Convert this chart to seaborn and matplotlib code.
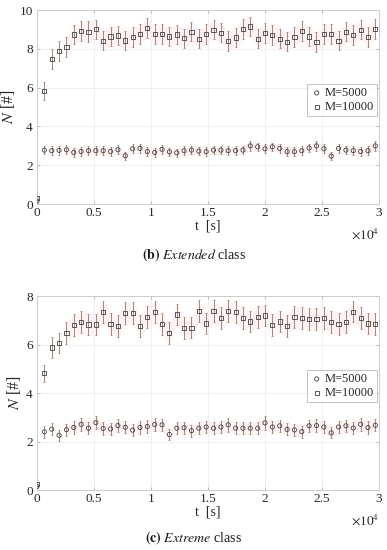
import numpy as np
import pandas as pd
import seaborn as sns
import matplotlib.pyplot as plt

# sampling times [s]
step = 645
times = [i * step for i in range(47)]

# (b) Extended class
ext_m5000 = [0.15, 2.78, 2.75, 2.77, 2.80, 2.66, 2.71, 2.75, 2.75, 2.75,
             2.71, 2.80, 2.49, 2.85, 2.87, 2.71, 2.66, 2.82, 2.69, 2.64,
             2.75, 2.78, 2.73, 2.70, 2.78, 2.78, 2.75, 2.75, 2.78, 3.00,
             2.95, 2.85, 2.95, 2.87, 2.70, 2.70, 2.75, 2.89, 3.00, 2.85,
             2.47, 2.87, 2.78, 2.75, 2.71, 2.75, 3.00]
ext_m5000_err = [0.05, 0.22, 0.22, 0.22, 0.22, 0.22, 0.22, 0.22, 0.22, 0.22,
                 0.22, 0.22, 0.20, 0.22, 0.24, 0.22, 0.22, 0.22, 0.22, 0.22,
                 0.22, 0.22, 0.22, 0.22, 0.22, 0.22, 0.22, 0.22, 0.22, 0.24,
                 0.22, 0.22, 0.22, 0.22, 0.22, 0.22, 0.22, 0.22, 0.24, 0.22,
                 0.20, 0.22, 0.22, 0.22, 0.22, 0.22, 0.24]
ext_m10000 = [0.30, 5.82, 7.48, 7.90, 8.10, 8.74, 8.93, 8.88, 9.01, 8.42,
              8.64, 8.69, 8.43, 8.61, 8.76, 9.08, 8.76, 8.76, 8.64, 8.74,
              8.54, 8.88, 8.52, 8.76, 8.99, 8.83, 8.40, 8.59, 9.03, 9.15,
              8.52, 8.81, 8.72, 8.52, 8.37, 8.62, 8.93, 8.64, 8.36, 8.76,
              8.76, 8.42, 8.89, 8.71, 8.99, 8.61, 9.03]
ext_m10000_err = [0.08, 0.45, 0.50, 0.50, 0.50, 0.50, 0.50, 0.55, 0.50, 0.50,
                  0.50, 0.50, 0.50, 0.50, 0.50, 0.50, 0.50, 0.50, 0.50, 0.50,
                  0.50, 0.50, 0.50, 0.50, 0.50, 0.50, 0.50, 0.50, 0.50, 0.50,
                  0.50, 0.50, 0.50, 0.50, 0.50, 0.50, 0.50, 0.50, 0.50, 0.50,
                  0.50, 0.50, 0.50, 0.50, 0.50, 0.50, 0.50]

# (c) Extreme class
xtr_m5000 = [0.15, 2.40, 2.51, 2.26, 2.49, 2.58, 2.71, 2.55, 2.78, 2.54,
             2.52, 2.66, 2.59, 2.47, 2.58, 2.62, 2.70, 2.69, 2.29, 2.55,
             2.57, 2.45, 2.55, 2.60, 2.55, 2.60, 2.69, 2.55, 2.55, 2.55,
             2.55, 2.77, 2.60, 2.65, 2.50, 2.48, 2.41, 2.65, 2.66, 2.60,
             2.36, 2.60, 2.65, 2.56, 2.71, 2.58, 2.67]
xtr_m5000_err = [0.05, 0.25, 0.25, 0.22, 0.25, 0.25, 0.28, 0.25, 0.28, 0.25,
                 0.25, 0.25, 0.25, 0.25, 0.25, 0.25, 0.28, 0.25, 0.22, 0.25,
                 0.25, 0.25, 0.25, 0.25, 0.25, 0.25, 0.28, 0.25, 0.25, 0.25,
                 0.25, 0.28, 0.25, 0.25, 0.25, 0.25, 0.25, 0.25, 0.25, 0.25,
                 0.22, 0.25, 0.25, 0.25, 0.28, 0.25, 0.25]
xtr_m10000 = [0.25, 4.81, 5.88, 6.07, 6.46, 6.79, 6.94, 6.83, 6.83, 7.35,
              6.85, 6.75, 7.30, 7.30, 6.75, 7.12, 7.35, 6.85, 6.47, 7.24,
              6.67, 6.70, 7.38, 6.87, 7.37, 7.10, 7.37, 7.35, 7.09, 6.95,
              7.15, 7.20, 6.80, 6.95, 6.76, 7.15, 7.10, 7.05, 7.05, 7.10,
              6.94, 6.85, 6.94, 7.36, 7.10, 6.87, 6.85]
xtr_m10000_err = [0.08, 0.35, 0.45, 0.40, 0.45, 0.45, 0.45, 0.45, 0.45, 0.45,
                  0.45, 0.45, 0.45, 0.45, 0.45, 0.45, 0.45, 0.45, 0.45, 0.45,
                  0.45, 0.45, 0.45, 0.45, 0.45, 0.45, 0.45, 0.45, 0.45, 0.45,
                  0.45, 0.45, 0.45, 0.45, 0.45, 0.45, 0.45, 0.45, 0.45, 0.45,
                  0.45, 0.45, 0.45, 0.45, 0.45, 0.45, 0.45]

xtick_vals = [0, 5000, 10000, 15000, 20000, 25000, 30000]
xtick_labels = ["0", "0.5", "1", "1.5", "2", "2.5", "3"]

sns.set_style("white")
plt.rcParams["font.family"] = ["Liberation Serif", "DejaVu Serif"]
plt.rcParams["mathtext.fontset"] = "stix"

fig = plt.figure(figsize=(3.87, 5.5), dpi=100)
ax_b = fig.add_axes([0.0956, 0.629, 0.884, 0.3527])
ax_c = fig.add_axes([0.0956, 0.109, 0.884, 0.3527])

err_color = "#9a7461"
edge_color = "#404040"
band_color = "#fdeef2"


def draw_panel(ax, s5, e5, s10, e10, ymax):
    df = pd.DataFrame({"t": times, "M=5000": s5, "M=10000": s10})
    for vals, errs in [(s5, e5), (s10, e10)]:
        lo = np.array(vals) - np.array(errs)
        hi = np.array(vals) + np.array(errs)
        ax.fill_between(times[4:], lo[4:], hi[4:], color=band_color,
                        alpha=0.7, lw=0, zorder=1)
        ax.errorbar(times, vals, yerr=errs, fmt="none", ecolor=err_color,
                    elinewidth=0.6, capsize=1.0, capthick=0.5, zorder=2)
    sns.scatterplot(data=df, x="t", y="M=5000", ax=ax, marker="o", s=9,
                    facecolors="none", edgecolor=edge_color, linewidth=0.6,
                    label="M=5000", zorder=3)
    sns.scatterplot(data=df, x="t", y="M=10000", ax=ax, marker="s", s=9,
                    facecolors="none", edgecolor=edge_color, linewidth=0.6,
                    label="M=10000", zorder=3)

    ax.set_xlim(0, 30000)
    ax.set_ylim(0, ymax)
    ax.set_xticks(xtick_vals)
    ax.set_xticklabels(xtick_labels)
    ax.set_yticks(list(range(0, ymax + 1, 2)))
    ax.grid(True, color="#ececec", lw=0.6)
    ax.set_axisbelow(True)
    for sp in ax.spines.values():
        sp.set_color("#cccccc")
        sp.set_linewidth(0.7)
    ax.tick_params(direction="in", length=2.5, width=0.5, color="#a0a0a0",
                   labelsize=9.5, labelcolor="#262626", pad=2,
                   top=True, right=True, bottom=True, left=True)
    ax.tick_params(axis="y", pad=3)
    ax.set_xlabel("t  [s]", fontsize=10, labelpad=0.5, color="#262626")
    ax.set_ylabel(r"$N$" + " [#]", fontsize=11.5, labelpad=2, color="#262626")
    ax.text(1.0, -0.118, r"$\times 10^4$", transform=ax.transAxes,
            ha="right", va="top", fontsize=9.5, color="#262626")

    leg = ax.legend(loc="lower right", bbox_to_anchor=(1.0, 0.44),
                    fontsize=9, frameon=True, fancybox=False,
                    handletextpad=0.1, borderpad=0.25, labelspacing=0.15,
                    handlelength=1.0, borderaxespad=0.2)
    leg.get_frame().set_edgecolor("#a8a8a8")
    leg.get_frame().set_linewidth(0.6)


draw_panel(ax_b, ext_m5000, ext_m5000_err, ext_m10000, ext_m10000_err, 10)
draw_panel(ax_c, xtr_m5000, xtr_m5000_err, xtr_m10000, xtr_m10000_err, 8)

fig.text(0.5, 0.538, r"$\mathbf{(b)}$ $\mathit{Extended}$ class",
         ha="center", va="center", fontsize=10, color="#1a1a1a")
fig.text(0.5, 0.022, r"$\mathbf{(c)}$ $\mathit{Extreme}$ class",
         ha="center", va="center", fontsize=10, color="#1a1a1a")

fig.savefig("out.png", dpi=100)
